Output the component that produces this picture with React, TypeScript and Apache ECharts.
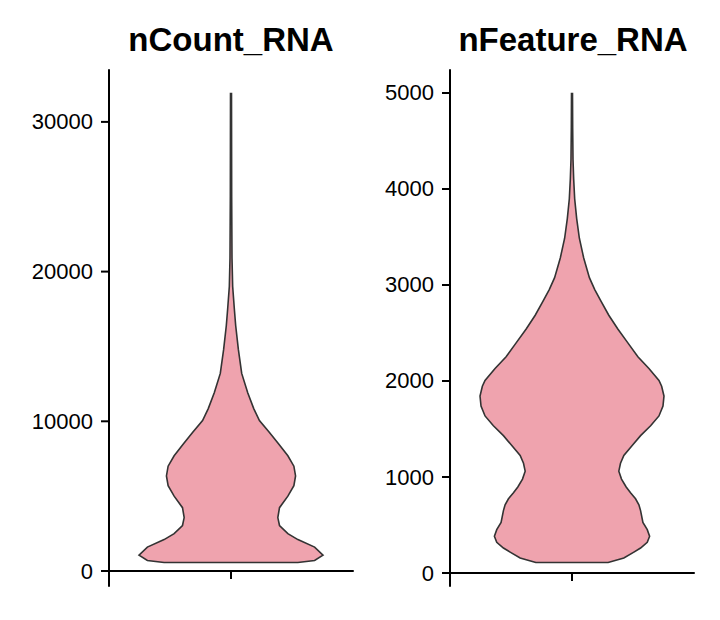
import React, { useEffect, useRef } from "react";
import * as echarts from "echarts";

// Panel titles
const panelTitles = ["nCount_RNA", "nFeature_RNA"];

// Tick labels for each panel's y axis
const countTicks = [0, 10000, 20000, 30000];
const featureTicks = [0, 1000, 2000, 3000, 4000, 5000];

// nCount_RNA violin profile: y values and relative density (half-width)
const countValues = [565, 700, 1060, 1600, 2100, 2500, 3040, 3570, 4230, 5000, 5700, 6350, 7000, 7700, 8500, 9250, 10050, 10850, 11900, 13200, 14800, 16400, 17500, 19000, 20900, 25000, 31900];
const countDensity = [200, 250, 275, 250, 200, 170, 145, 140, 145, 170, 188, 193, 188, 170, 142, 115, 85, 68, 50, 32, 22, 14, 10, 5, 3, 2, 1.5];

// nFeature_RNA violin profile
const featureValues = [109, 156, 218, 260, 320, 382, 452, 526, 650, 711, 773, 835, 896, 978, 1061, 1143, 1225, 1328, 1431, 1534, 1636, 1740, 1842, 1945, 2006, 2130, 2253, 2397, 2541, 2685, 2829, 2952, 3076, 3281, 3487, 3692, 3898, 4104, 4309, 4638, 4995];
const featureDensity = [108, 155, 185, 205, 225, 232, 225, 212, 205, 200, 190, 175, 162, 148, 140, 145, 155, 180, 205, 235, 260, 272, 275, 268, 260, 230, 197, 167, 137, 110, 87, 68, 52, 35, 22, 14, 8, 5, 3, 2, 1.5];

const FILL = "#EFA3AE";
const STROKE = "#333333";
const FONT = "'Liberation Sans', Arial, sans-serif";
const TICK_LEN = 8;
const GRID_LEFT = [109, 450];

function violinSeries(idx: number, values: number[], dens: number[]) {
  const dmax = Math.max(...dens);
  return {
    type: "custom",
    xAxisIndex: idx,
    yAxisIndex: idx,
    data: values.map((v) => [0, v]),
    encode: { x: 0, y: 1 },
    renderItem: (params: any, api: any) => {
      if (params.dataIndex !== 0) return null;
      const band = api.size([1, 0])[0];
      const left: number[][] = [];
      const right: number[][] = [];
      for (let i = 0; i < values.length; i++) {
        const c = api.coord([0, values[i]]);
        const hw = (dens[i] / dmax) * band * 0.377;
        left.push([c[0] - hw, c[1]]);
        right.push([c[0] + hw, c[1]]);
      }
      const pts = left.concat(right.reverse());
      return {
        type: "polygon",
        shape: { points: pts },
        style: { fill: FILL, stroke: STROKE, lineWidth: 1.6 },
      };
    },
  };
}

function yAxis(idx: number, values: number[], ticks: number[]) {
  const lo = Math.min(...values);
  const hi = Math.max(...values);
  const r = hi - lo;
  return {
    type: "value",
    gridIndex: idx,
    min: lo - 0.05 * r,
    max: hi + 0.05 * r,
    splitLine: { show: false },
    axisLine: { show: true, lineStyle: { color: "#000", width: 2 } },
    axisTick: { show: false },
    axisLabel: {
      show: true,
      customValues: ticks,
      margin: 16,
      color: "#000",
      fontSize: 22,
      fontFamily: FONT,
      formatter: (v: number) => String(v),
    },
  };
}

function xAxis(idx: number) {
  return {
    type: "category",
    gridIndex: idx,
    data: [""],
    boundaryGap: true,
    axisLine: { show: true, lineStyle: { color: "#000", width: 2 } },
    axisTick: { show: true, alignWithLabel: true, length: TICK_LEN, lineStyle: { color: "#000", width: 2 } },
    axisLabel: { show: false },
    splitLine: { show: false },
  };
}

export default function App() {
  const ref = useRef<HTMLDivElement>(null);
  useEffect(() => {
    if (!ref.current) return;
    const chart = echarts.init(ref.current, null, { renderer: "svg" });
    const titleStyle = { fontSize: 33, fontWeight: "bold", fontFamily: FONT, color: "#000" };
    chart.setOption({
      animation: false,
      backgroundColor: "#fff",
      title: [
        { text: panelTitles[0], left: 226, top: 18, textAlign: "center", textStyle: titleStyle },
        { text: panelTitles[1], left: 568, top: 18, textAlign: "center", textStyle: titleStyle },
      ],
      grid: [
        { left: GRID_LEFT[0], right: 367, top: 70, bottom: 34 },
        { left: GRID_LEFT[1], right: 26, top: 70, bottom: 34 },
      ],
      xAxis: [xAxis(0), xAxis(1)],
      yAxis: [yAxis(0, countValues, countTicks), yAxis(1, featureValues, featureTicks)],
      series: [
        violinSeries(0, countValues, countDensity),
        violinSeries(1, featureValues, featureDensity),
      ],
    });
    // y-axis tick marks, positioned through each axis scale
    const tickEls: any[] = [];
    [countTicks, featureTicks].forEach((ticks, idx) => {
      ticks.forEach((t) => {
        const y = chart.convertToPixel({ yAxisIndex: idx } as any, t) as unknown as number;
        tickEls.push({
          type: "rect",
          shape: { x: GRID_LEFT[idx] - TICK_LEN, y: y - 1, width: TICK_LEN + 1, height: 2 },
          style: { fill: "#000" },
          z: 100,
        });
      });
    });
    chart.setOption({ graphic: tickEls });
    return () => chart.dispose();
  }, []);
  return (
    <div ref={ref} style={{ position: "absolute", left: 0, top: 0, width: 720, height: 620 }} />
  );
}
